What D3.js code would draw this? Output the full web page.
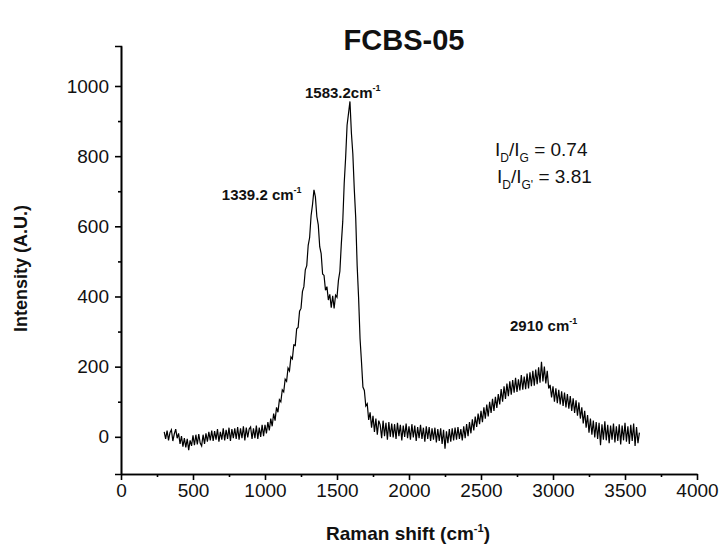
<!DOCTYPE html>
<html>
<head>
<meta charset="utf-8">
<script src="https://cdn.jsdelivr.net/npm/d3@7"></script>
<style>
  body { margin: 0; background: #fff; }
  text { font-family: Arial, "Liberation Sans", sans-serif; fill: #111; }
</style>
</head>
<body>
<div id="chart-area"></div>
<script>
// DATA
// =====

// spectrum sampled every 10 cm-1, 300 .. 3600, one row per 100 cm-1
var shiftStart = 300, shiftStep = 10;
var intensity = [
    14, -6, 18, -10, 12, 20, -12, 8, 22, -4,
    10, -20, 2, -28, -4, -30, -6, -38, -10, -26,
    4, -24, 6, -22, 8, -18, -26, 6, -20, 10,
    -14, 14, -10, 18, -12, 16, -8, 22, -14, 14,
    -8, 24, -10, 20, -6, 26, -12, 22, -4, 24,
    -6, 28, -8, 24, -4, 30, -10, 26, -2, 22,
    28, -6, 24, -4, 32, -6, 26, 0, 34, 2,
    34, 10, 42, 18, 52, 30, 66, 46, 84, 70,
    106, 100, 134, 128, 164, 158, 196, 188, 228, 222,
    262, 260, 308, 312, 358, 366, 414, 428, 476, 488,
    546, 568, 630, 662, 704, 684, 628, 604, 542, 522,
    464, 460, 418, 428, 390, 406, 368, 402, 366, 404,
    398, 446, 472, 550, 614, 722, 796, 888, 922, 956,
    866, 806, 706, 624, 488, 396, 280, 214, 142, 132,
    88, 94, 48, 70, 26, 60, 14, 52, 6, 46,
    34, -4, 46, 2, 40, -8, 42, 0, 38, -2,
    36, -6, 40, 2, 34, -10, 32, 0, 38, -4,
    30, -8, 36, -2, 32, -12, 28, -4, 34, -6,
    26, -14, 30, -6, 28, -12, 24, -8, 26, -16,
    22, -12, 24, -20, 20, -34, 16, -18, 22, -14,
    24, -10, 26, -8, 28, -6, 22, -10, 30, -4,
    36, 2, 42, 10, 50, 18, 58, 28, 66, 36,
    74, 42, 84, 52, 92, 58, 100, 68, 108, 74,
    114, 82, 122, 92, 136, 100, 144, 108, 152, 116,
    158, 120, 162, 126, 168, 128, 164, 132, 176, 134,
    172, 136, 180, 138, 184, 144, 188, 146, 192, 150,
    198, 154, 214, 158, 200, 152, 188, 138, 148, 112,
    144, 100, 138, 96, 134, 92, 130, 88, 126, 84,
    122, 80, 116, 74, 110, 68, 104, 60, 98, 52,
    84, 38, 74, 26, 62, 12, 52, 6, 46, -2,
    42, -6, 40, -24, 36, -8, 44, -10, 34, -18,
    32, -8, 38, -16, 30, -12, 36, -22, 32, -10,
    40, -14, 30, -20, 34, -12, 38, -26, 28, -18,
    12
];

var xTicks = [0, 500, 1000, 1500, 2000, 2500, 3000, 3500, 4000];
var xMinor = [250, 750, 1250, 1750, 2250, 2750, 3250, 3750];
var yTicks = [0, 200, 400, 600, 800, 1000];
var yMinor = [100, 300, 500, 700, 900];

var peakLabels = [
    { x: 1583.2, y: 940, text: '1583.2cm' },
    { x: 1339.2, y: 690, text: '1339.2 cm' },
    { x: 2910, y: 200, text: '2910 cm' }
];
var ratioLabels = [
    { sub2: 'G', value: '0.74' },
    { sub2: 'G\'', value: '3.81' }
];


// CANVAS + MARGINS
// =================

var margin, width, height, svg, g;

margin = { left: 121, right: 24, top: 46, bottom: 72 };
width = 721 - margin.left - margin.right;
height = 546 - margin.top - margin.bottom;

svg = d3.select('#chart-area')
    .append('svg')
        .attr('width', 721)
        .attr('height', 546);

g = svg.append('g')
    .attr('transform', 'translate(' + margin.left + ',' + margin.top + ')');

var x = d3.scaleLinear().domain([0, 4000]).range([0, width]);
var y = d3.scaleLinear().domain([-106, 1114]).range([height, 0]);

var data = intensity.map(function (v, i) {
    return { shift: shiftStart + i * shiftStep, value: v };
});


// AXES
// =====

g.append('g')
    .attr('transform', 'translate(0,' + height + ')')
    .call(d3.axisBottom(x).tickValues(xTicks).tickFormat(d3.format('d'))
        .tickSize(6).tickSizeOuter(0).tickPadding(4));
g.append('g')
    .attr('transform', 'translate(0,' + height + ')')
    .call(d3.axisBottom(x).tickValues(xMinor).tickSize(3).tickSizeOuter(0).tickFormat(''));

g.append('g')
    .call(d3.axisLeft(y).tickValues(yTicks).tickFormat(d3.format('d'))
        .tickSize(6).tickSizeOuter(6).tickPadding(6));
g.append('g')
    .call(d3.axisLeft(y).tickValues(yMinor).tickSize(3).tickSizeOuter(0).tickFormat(''));

g.selectAll('.domain, .tick line')
    .attr('stroke', '#000')
    .attr('stroke-width', 1.6);
g.selectAll('.tick text')
    .attr('font-size', '19px')
    .attr('font-family', 'Arial, "Liberation Sans", sans-serif')
    .attr('fill', '#111');


// LINE
// =====

var line = d3.line()
    .x(function (d) { return x(d.shift); })
    .y(function (d) { return y(d.value); });

g.append('path')
    .datum(data)
    .attr('fill', 'none')
    .attr('stroke', '#000')
    .attr('stroke-width', 1.2)
    .attr('d', line);


// LABELS
// =======

svg.append('text')
    .attr('x', 404)
    .attr('y', 50)
    .attr('text-anchor', 'middle')
    .attr('font-size', '29px')
    .attr('font-weight', 'bold')
    .text('FCBS-05');

var xl = svg.append('text')
    .attr('x', 408)
    .attr('y', 540)
    .attr('text-anchor', 'middle')
    .attr('font-size', '19px')
    .attr('font-weight', 'bold');
xl.append('tspan').text('Raman shift (cm');
xl.append('tspan').attr('font-size', '11px').attr('dy', -8).text('-1');
xl.append('tspan').attr('dy', 8).text(')');

svg.append('text')
    .attr('transform', 'translate(27,' + (margin.top + y(480)) + ') rotate(-90)')
    .attr('text-anchor', 'middle')
    .attr('font-size', '18px')
    .attr('font-weight', 'bold')
    .text('Intensity (A.U.)');

// peak annotations
var offs = [[-44, -9], [-92, 5], [-30, -36]];
peakLabels.forEach(function (p, i) {
    var t = g.append('text')
        .attr('x', x(p.x) + offs[i][0])
        .attr('y', y(p.y) + offs[i][1])
        .attr('font-size', '15px')
        .attr('font-weight', 'bold')
        .text(p.text);
    t.append('tspan').attr('font-size', '9px').attr('dy', -7).text('-1');
});

// intensity ratios
ratioLabels.forEach(function (r, i) {
    var t = svg.append('text')
        .attr('x', 495 + i * 2)
        .attr('y', 156 + i * 27)
        .attr('font-size', '19px');
    t.append('tspan').text('I');
    t.append('tspan').attr('font-size', '12px').attr('dy', 6).text('D');
    t.append('tspan').attr('dy', -6).text('/I');
    t.append('tspan').attr('font-size', '12px').attr('dy', 6).text(r.sub2);
    t.append('tspan').attr('dy', -6).text(' = ' + r.value);
});
</script>
</body>
</html>
